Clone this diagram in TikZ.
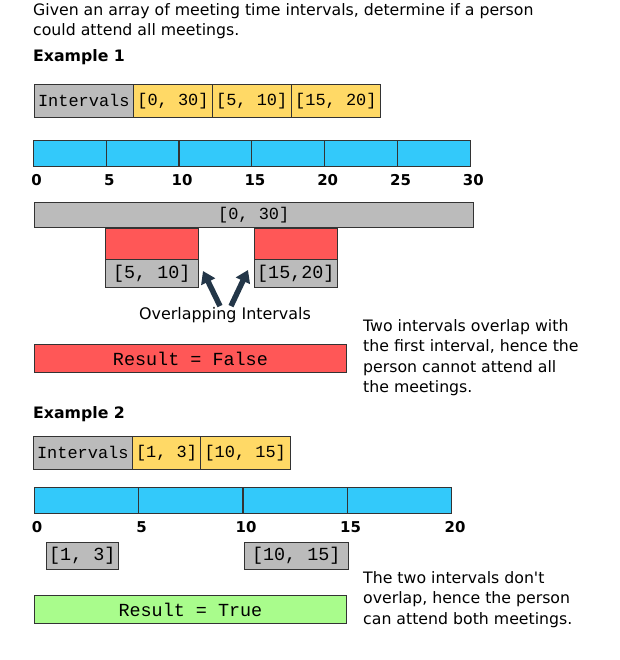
\documentclass[tikz,border=0pt]{standalone}
\usepackage{fontspec}
\setmainfont{DejaVu Sans}
\setmonofont{Liberation Mono}
\usetikzlibrary{positioning,arrows.meta}

\definecolor{cgray}{HTML}{BBBBBB}
\definecolor{cyellow}{HTML}{FFD966}
\definecolor{cblue}{HTML}{33C9FA}
\definecolor{cred}{HTML}{FF5757}
\definecolor{cgreen}{HTML}{A9FC8C}
\definecolor{carrow}{HTML}{233648}

\tikzset{
	cell/.style={draw=black!80, line width=0.9pt, inner sep=0pt, outer sep=0pt, minimum height=34, font=\fontsize{17}{17}\ttfamily},
	bigtext/.style={font=\fontsize{18.5}{18.5}\ttfamily},
	graycell/.style={cell, fill=cgray},
	yelcell/.style={cell, fill=cyellow},
	redcell/.style={cell, fill=cred},
	greencell/.style={cell, fill=cgreen},
	bluecell/.style={cell, fill=cblue, minimum height=27, anchor=north west},
	num/.style={font=\fontsize{15}{15}\selectfont\bfseries},
	txt/.style={font=\fontsize{15.8}{20.5}\selectfont, align=left, anchor=north west, inner sep=0pt},
	head/.style={font=\fontsize{15.8}{15.8}\selectfont\bfseries, anchor=west, inner sep=0pt},
	darrow/.style={carrow, line width=5.5pt, -{Triangle[length=12pt,width=15pt]}},
}

\begin{document}
\begin{tikzpicture}[x=1bp, y=-1bp]
\useasboundingbox (0,0) rectangle (620,660);

\node[txt] (title) at (33,3) {Given an array of meeting time intervals, determine if a person\\could attend all meetings.};

% Example 1
\node[head] (ex1) at (33,57) {Example 1};
\node[graycell, minimum width=100, anchor=north west] (iv1) at (34,84) {Intervals};
\node[yelcell, minimum width=79, right=0pt of iv1] (e1a) {[0, 30]};
\node[yelcell, minimum width=79, right=0pt of e1a] (e1b) {[5, 10]};
\node[yelcell, minimum width=90, right=0pt of e1b] (e1c) {[15, 20]};

\foreach \i in {0,...,5} {
	\node[bluecell, minimum width=72.8] (b1\i) at ({33.5+72.8*\i},140) {};
}
\foreach \v [count=\i from 0] in {0,5,...,30} {
	\node[num] (t1\i) at ({36.5+72.8*\i},180) {\v};
}

\node[graycell, minimum width=441, minimum height=26, anchor=north west] (all1) at (34,202) {[0, 30]};
\node[redcell, minimum width=94, minimum height=32, anchor=north west] (r1) at (105,228) {};
\node[graycell, bigtext, minimum width=94, minimum height=28, below=0pt of r1] (g1) {[5, 10]};
\node[redcell, minimum width=84, minimum height=32, anchor=north west] (r2) at (254,228) {};
\node[graycell, bigtext, minimum width=84, minimum height=28, below=0pt of r2] (g2) {[15,20]};

\node[font=\fontsize{16}{16}\selectfont, inner sep=1pt] (olap) at (225,315) {Overlapping Intervals};
\coordinate (tipA) at (203,271);
\coordinate (tipB) at (248,270);
\draw[darrow] ([xshift=-5]olap.north) -- (tipA);
\draw[darrow] ([xshift=6]olap.north) -- (tipB);

\node[redcell, bigtext, minimum width=314, minimum height=29, anchor=north west] (res1) at (34,344) {Result = False};
\node[txt] (note1) at (363,319) {Two intervals overlap with\\the first interval, hence the\\person cannot attend all\\the meetings.};

% Example 2
\node[head] (ex2) at (33,414) {Example 2};
\node[graycell, minimum width=100, anchor=north west] (iv2) at (33,436) {Intervals};
\node[yelcell, minimum width=68, right=0pt of iv2] (e2a) {[1, 3]};
\node[yelcell, minimum width=90, right=0pt of e2a] (e2b) {[10, 15]};

\foreach \i in {0,...,3} {
	\node[bluecell, minimum width=104.5] (b2\i) at ({34+104.5*\i},487) {};
}
\foreach \v [count=\i from 0] in {0,5,...,20} {
	\node[num] (t2\i) at ({37+104.5*\i},527) {\v};
}

\node[graycell, bigtext, minimum width=73, minimum height=28, anchor=north west] (g3) at (46,542) {[1, 3]};
\node[graycell, bigtext, minimum width=105, minimum height=28, anchor=north west] (g4) at (244,542) {[10, 15]};

\node[greencell, bigtext, minimum width=314, minimum height=29, anchor=north west] (res2) at (34,595) {Result = True};
\node[txt] (note2) at (363,571) {The two intervals don\textquotesingle t\\overlap, hence the person\\can attend both meetings.};

\end{tikzpicture}
\end{document}
